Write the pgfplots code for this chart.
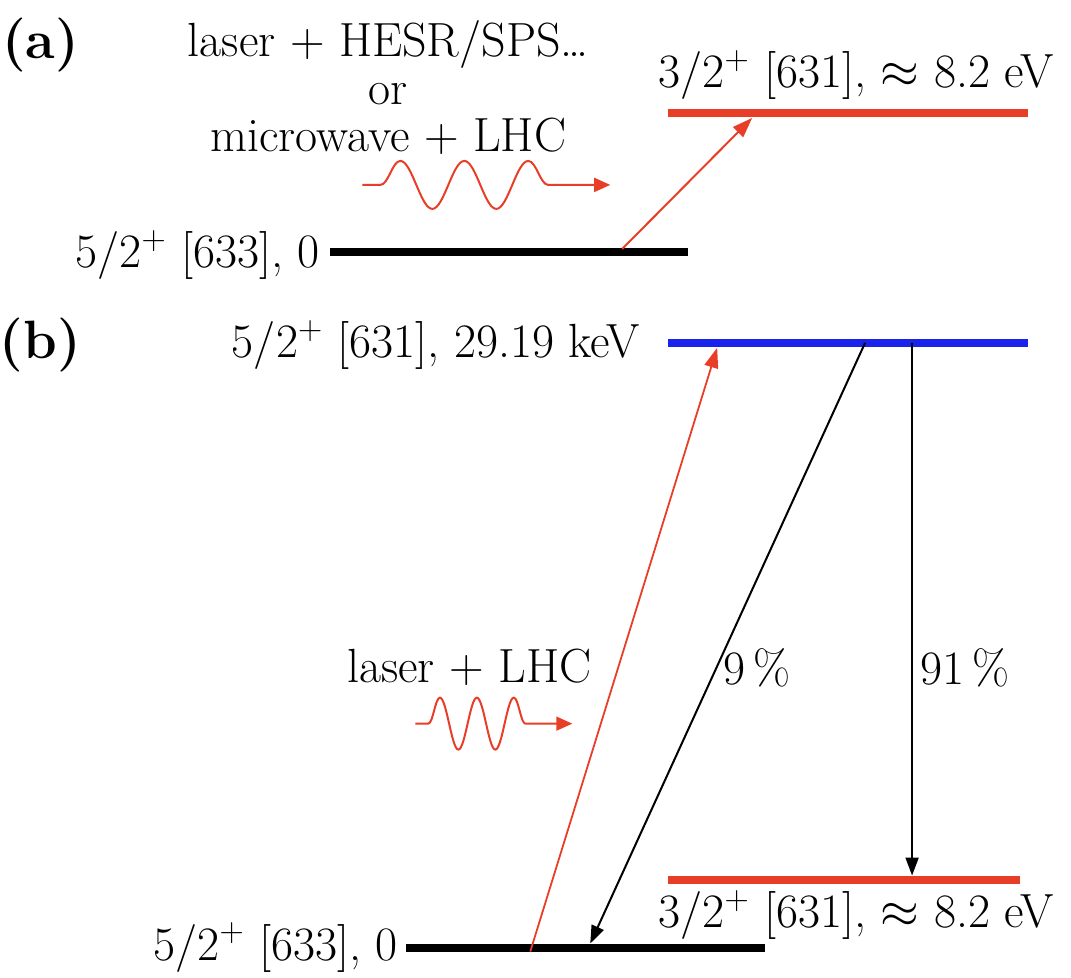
\documentclass[border=0pt]{standalone}
\usepackage{pgfplots}
\pgfplotsset{compat=1.18}
\usetikzlibrary{arrows.meta,decorations.pathmorphing}
\definecolor{lred}{RGB}{232,62,40}
\definecolor{lblue}{RGB}{25,35,235}
\tikzset{lbl/.style={font=\rmfamily\fontsize{24}{23.75}\selectfont, inner sep=0pt}}
\begin{document}
\begin{tikzpicture}
\begin{axis}[
  hide axis, scale only axis, width=535.5pt, height=489pt,
  xmin=0, xmax=1071, ymin=0, ymax=978, y dir=reverse, clip=false, no markers,
]
\path (axis cs:0,0) rectangle (axis cs:1071,978);
% levels
\addplot[black, line width=4pt] coordinates {(330,252) (688,252)};
\addplot[lred, line width=4pt] coordinates {(668,113) (1028,113)};
\addplot[lblue, line width=4pt] coordinates {(668,343) (1028,343)};
\addplot[lred, line width=4pt] coordinates {(668,880) (1020,880)};
\addplot[black, line width=4pt] coordinates {(406,948) (765,948)};
% transitions
\addplot[lred, line width=1pt, -{Triangle[length=10pt,width=7pt]}] coordinates {(622,249) (752,118)};
\addplot[lred, line width=0.9pt, -{Triangle[length=10pt,width=7pt]}] coordinates {(530,952) (717,348)};
\addplot[black, line width=1pt, -{Triangle[length=9pt,width=6.5pt]}] coordinates {(865,343) (590,944)};
\addplot[black, line width=1pt, -{Triangle[length=9pt,width=6.5pt]}] coordinates {(912,343) (912,876)};
% waves
\addplot[lred, line width=1pt, decorate, decoration={snake, amplitude=12pt, segment length=32pt, pre length=9pt, post length=16pt}, -{Triangle[length=8pt,width=7pt]}] coordinates {(362,185) (610,185)};
\addplot[lred, line width=1pt, decorate, decoration={snake, amplitude=13pt, segment length=18.5pt, pre length=6.5pt, post length=16pt}, -{Triangle[length=8pt,width=7pt]}] coordinates {(415,724) (572,724)};
% labels
\node[lbl] at (axis cs:40,45) {\fontsize{27}{27}\selectfont\textbf{(a)}};
\node[lbl, align=center] at (axis cs:388,88) {laser + HESR/SPS\dots\\or\\microwave + LHC};
\node[lbl, anchor=east] at (axis cs:320,255) {5/2\textsuperscript{+} [633], 0};
\node[lbl] at (axis cs:856,75) {3/2\textsuperscript{+} [631], $\approx$ 8.2 eV};
\node[lbl] at (axis cs:40,345) {\fontsize{27}{27}\selectfont\textbf{(b)}};
\node[lbl, anchor=east] at (axis cs:640,345) {5/2\textsuperscript{+} [631], 29.19 keV};
\node[lbl] at (axis cs:469,668) {laser + LHC};
\node[lbl] at (axis cs:757,668) {9\,\%};
\node[lbl] at (axis cs:965,668) {91\,\%};
\node[lbl] at (axis cs:856,915) {3/2\textsuperscript{+} [631], $\approx$ 8.2 eV};
\node[lbl, anchor=east] at (axis cs:398,948) {5/2\textsuperscript{+} [633], 0};
\end{axis}
\end{tikzpicture}
\end{document}
